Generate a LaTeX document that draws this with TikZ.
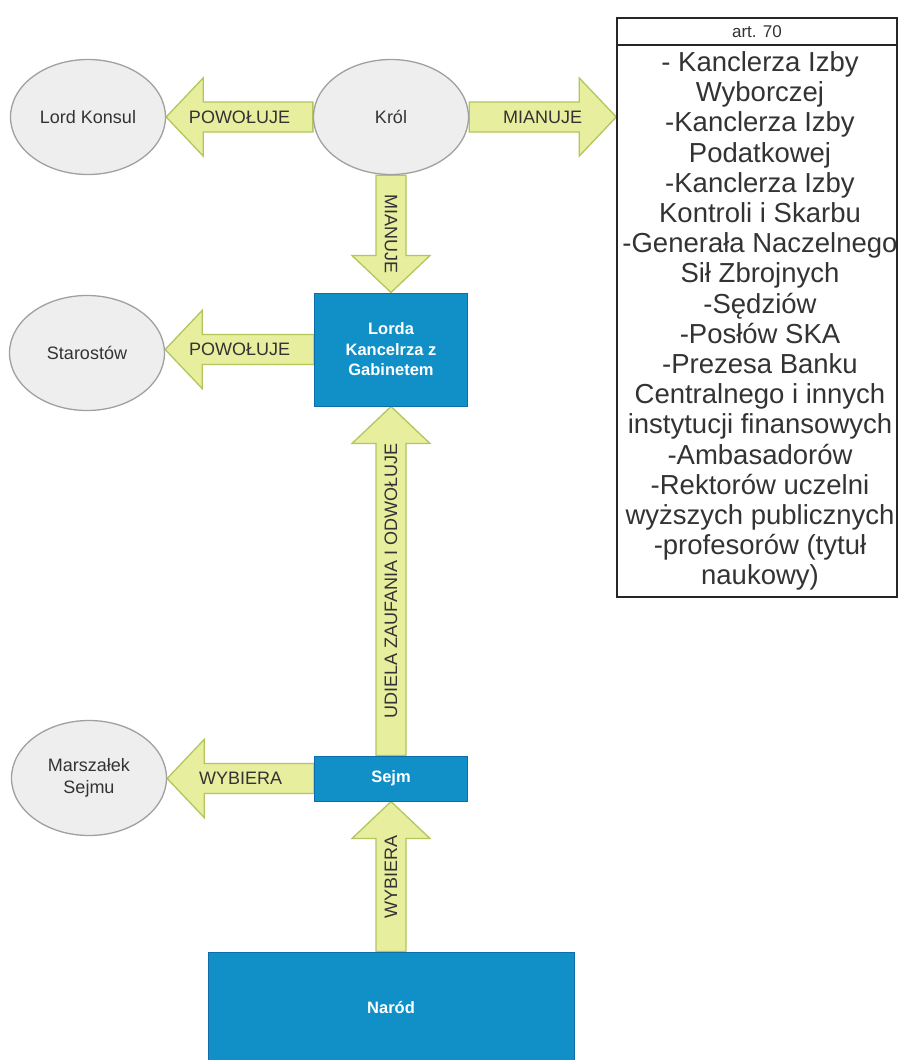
\documentclass[tikz,border=0pt]{standalone}
\usepackage{fontspec}
\setmainfont{Liberation Sans}
\usetikzlibrary{shapes.geometric,calc}
\pgfdeclarelayer{bg}
\pgfsetlayers{bg,main}
\definecolor{arrowfill}{RGB}{231,238,158}
\definecolor{arrowborder}{RGB}{178,198,92}
\definecolor{boxblue}{RGB}{17,144,199}
\definecolor{boxborder}{RGB}{14,108,168}
\definecolor{ellfill}{RGB}{238,238,238}
\definecolor{ellborder}{RGB}{160,160,160}
\definecolor{txtgray}{RGB}{51,51,51}
\tikzset{
  ell/.style={ellipse, draw=ellborder, fill=ellfill, line width=1.3pt,
    minimum width=155pt, minimum height=115pt, inner sep=0pt, align=center,
    text=txtgray, font=\fontsize{18}{22}\selectfont},
  bluebox/.style={rectangle, draw=boxborder, fill=boxblue, line width=1pt,
    inner sep=0pt, align=center, text=white, font=\bfseries\fontsize{16.5}{20.5}\selectfont},
  artbox/.style={rectangle, draw=black!85, line width=1.4pt, fill=white,
    inner sep=0pt, align=center, text=txtgray, minimum width=280pt},
  arttext/.style={inner sep=0pt, align=center, text=txtgray, font=\fontsize{27.5}{30.2}\selectfont},
  blockarrow/.style={fill=arrowfill, draw=arrowborder, line width=1.3pt, line join=miter},
  lbl/.style={text=txtgray, font=\fontsize{18}{20}\selectfont, inner sep=0pt},
}
\newcommand\barrow[4]{%
  \coordinate (ba) at (#1);
  \coordinate (bb) at (#2);
  \coordinate (bh) at ($(bb)!37pt!(ba)$);
  \path[blockarrow] ($(ba)!15pt!90:(bb)$) -- ($(bh)!15pt!90:(bb)$) -- ($(bh)!39pt!90:(bb)$)
    -- (bb) -- ($(bh)!39pt!-90:(bb)$) -- ($(bh)!15pt!-90:(bb)$) -- ($(ba)!15pt!-90:(bb)$) -- cycle;
  \path (ba) -- (bb) node[midway, lbl, rotate=#4] {#3};
}
\begin{document}
\begin{tikzpicture}[x=1pt,y=-1pt]
\useasboundingbox (0,0) rectangle (898,1060);
\node[ell] (lk) at (88,117) {Lord Konsul};
\node[ell] (kr) at (391,117) {Król};
\node[ell] (st) at (87,353) {Starostów};
\node[ell] (ms) at (89,778) {Marszałek\\Sejmu};
\node[bluebox, minimum width=153pt, minimum height=113pt] (lorda) at (391,349.5) {Lorda\\Kancelrza z\\Gabinetem};
\node[bluebox, minimum width=153pt, minimum height=45pt] (sejm) at (391,778.5) {Sejm};
\node[bluebox, minimum width=366pt, minimum height=112pt] (narod) at (391,1008) {Naród};
\node[artbox, minimum height=27pt, font=\fontsize{17}{18}\selectfont] (arthead) at (757,31.5) {art. 70};
\node[artbox, minimum height=552pt] (artbody) at (757,321) {};
\node[arttext] (artlist) at (760,321)
  {- Kanclerza Izby\\Wyborczej\\-Kanclerza Izby\\Podatkowej\\-Kanclerza Izby\\Kontroli i Skarbu\\-Generała Naczelnego\\Sił Zbrojnych\\-Sędziów\\-Posłów SKA\\-Prezesa Banku\\Centralnego i innych\\instytucji finansowych\\-Ambasadorów\\-Rektorów uczelni\\wyższych publicznych\\-profesorów (tytuł\\naukowy)};
\begin{pgfonlayer}{bg}
\fill[white] (0,0) rectangle (898,1060);
\barrow{kr.west}{kr.west -| lk.east}{POWOŁUJE}{0}
\barrow{kr.east}{kr.east -| artbody.west}{MIANUJE}{0}
\barrow{kr.south}{lorda.north}{MIANUJE}{-90}
\barrow{lorda.west}{lorda.west -| st.east}{POWOŁUJE}{0}
\barrow{sejm.north}{lorda.south}{UDIELA ZAUFANIA I ODWOŁUJE}{90}
\barrow{sejm.west}{sejm.west -| ms.east}{WYBIERA}{0}
\barrow{narod.north}{sejm.south}{WYBIERA}{90}
\end{pgfonlayer}
\end{tikzpicture}
\end{document}
